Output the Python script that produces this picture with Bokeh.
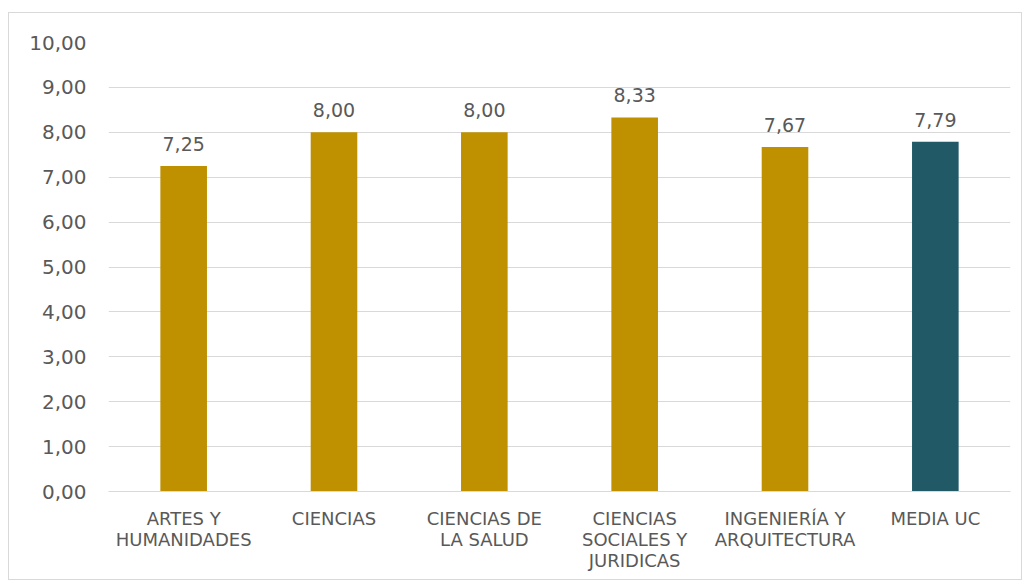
from bokeh.plotting import figure
from bokeh.models import ColumnDataSource, FactorRange, Range1d, CustomJSTickFormatter, FixedTicker
from bokeh.core.properties import value
from bokeh.embed import file_html
from bokeh.resources import INLINE

categories = ["ARTES Y\nHUMANIDADES", "CIENCIAS", "CIENCIAS DE\nLA SALUD",
              "CIENCIAS\nSOCIALES Y\nJURIDICAS", "INGENIERÍA Y\nARQUITECTURA", "MEDIA UC"]
values = [7.25, 8.00, 8.00, 8.33, 7.67, 7.79]
colors = ["#BF9000", "#BF9000", "#BF9000", "#BF9000", "#BF9000", "#215967"]
labels = [f"{v:.2f}".replace(".", ",") for v in values]
y_ticks = [0, 1, 2, 3, 4, 5, 6, 7, 8, 9, 10]

FONT = "DejaVu Sans"
TXT = "#595959"

src = ColumnDataSource(dict(cat=categories, val=values, color=colors, label=labels))

p = figure(x_range=FactorRange(*categories), y_range=Range1d(0, 10),
           frame_width=902, frame_height=449,
           min_border_left=99, min_border_right=11, min_border_top=29, min_border_bottom=88,
           output_backend="svg", toolbar_location=None)
p.styles = {"border": "1px solid #d9d9d9", "margin-top": "12px", "margin-left": "8px"}
p.outline_line_color = None

p.vbar(x="cat", top="val", width=0.31, color="color", line_color=None, source=src)
p.text(x="cat", y="val", text="label", source=src, text_align="center", text_baseline="bottom",
       y_offset=-15, text_font=value(FONT), text_font_size="19px", text_color=TXT)

p.yaxis.ticker = FixedTicker(ticks=y_ticks)
p.yaxis.formatter = CustomJSTickFormatter(code="return tick.toFixed(2).replace('.', ',');")
p.yaxis.axis_line_color = None
p.yaxis.major_tick_line_color = None
p.yaxis.minor_tick_line_color = None
p.yaxis.major_label_standoff = 16
p.yaxis.major_label_text_font = FONT
p.yaxis.major_label_text_font_size = "20px"
p.yaxis.major_label_text_color = TXT

p.xaxis.axis_line_color = "#d9d9d9"
p.xaxis.axis_line_width = 1
p.xaxis.major_tick_line_color = None
p.xaxis.minor_tick_line_color = None
p.xaxis.major_label_standoff = 10
p.xaxis.major_label_text_font = FONT
p.xaxis.major_label_text_font_size = "18px"
p.xaxis.major_label_text_line_height = 1.0
p.xaxis.major_label_text_color = TXT

p.xgrid.grid_line_color = None
p.ygrid.grid_line_color = "#d9d9d9"
p.ygrid.grid_line_width = 1

open("out.html", "w").write(file_html(p, INLINE))
